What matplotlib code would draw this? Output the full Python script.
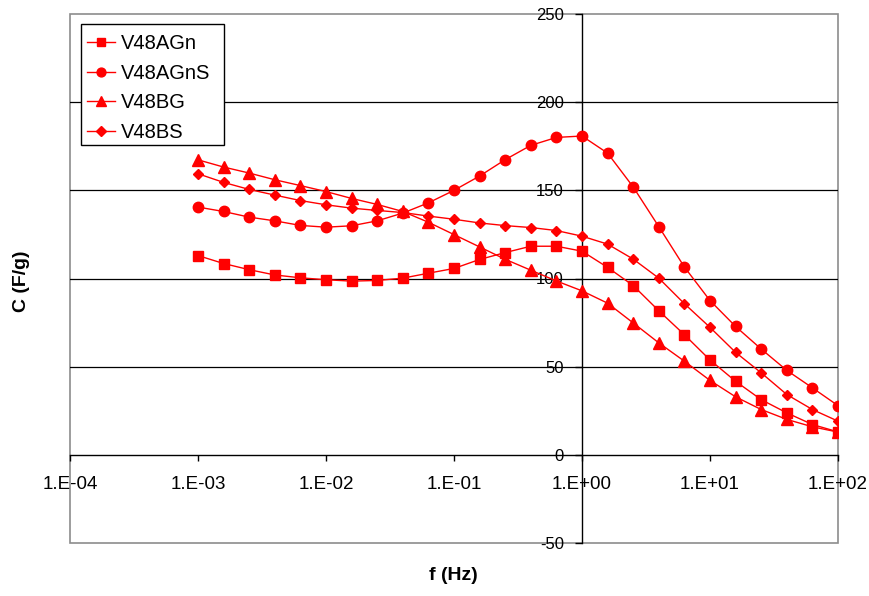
import numpy as np
import matplotlib
matplotlib.use("Agg")
import matplotlib.pyplot as plt
from matplotlib.ticker import FixedLocator, FixedFormatter
from matplotlib.patches import Rectangle

plt.rcParams['font.family'] = ['Liberation Sans', 'DejaVu Sans']

# Frequency sweep: 1 mHz to 100 Hz, five points per decade
log_f = [-3.0, -2.8, -2.6, -2.4, -2.2, -2.0, -1.8, -1.6, -1.4, -1.2,
         -1.0, -0.8, -0.6, -0.4, -0.2, 0.0, 0.2, 0.4, 0.6, 0.8,
         1.0, 1.2, 1.4, 1.6, 1.8, 2.0]
freq = [10 ** v for v in log_f]

c_v48agn = [113.0, 108.5, 105.0, 102.0, 100.4, 99.3, 98.5, 98.9, 100.2, 103.0,
            105.7, 110.8, 114.7, 118.3, 118.3, 115.5, 106.3, 96.0, 81.7, 68.1,
            53.8, 41.7, 31.3, 23.8, 17.2, 13.0]
c_v48agns = [140.5, 138.0, 134.8, 132.7, 130.1, 129.1, 129.9, 132.7, 137.1, 142.9,
             150.0, 158.1, 167.4, 175.5, 180.0, 180.8, 171.1, 151.9, 129.4, 106.5,
             87.5, 72.8, 60.0, 47.9, 38.0, 27.9]
c_v48bg = [167.3, 163.2, 159.8, 156.0, 152.7, 149.3, 145.4, 142.0, 138.0, 131.9,
           124.9, 117.9, 110.9, 104.7, 98.6, 93.0, 86.0, 74.8, 63.5, 53.1,
           42.2, 32.9, 25.7, 20.1, 15.9, 12.9]
c_v48bs = [159.4, 154.5, 150.5, 147.3, 144.2, 141.8, 139.9, 138.6, 137.4, 135.4,
           133.6, 131.5, 130.0, 128.9, 127.2, 124.0, 119.5, 111.0, 100.2, 85.7,
           72.3, 58.1, 46.5, 34.2, 25.7, 19.1]

series_names = ['V48AGn', 'V48AGnS', 'V48BG', 'V48BS']
series_values = [c_v48agn, c_v48agns, c_v48bg, c_v48bs]

x_ticks = [1e-4, 1e-3, 1e-2, 1e-1, 1e0, 1e1, 1e2]
x_tick_labels = ['1.E-04', '1.E-03', '1.E-02', '1.E-01', '1.E+00', '1.E+01', '1.E+02']
y_ticks = [-50, 0, 50, 100, 150, 200, 250]
y_tick_labels = ['-50', '0', '50', '100', '150', '200', '250']

W, H = 869, 596
fig = plt.figure(figsize=(W / 100, H / 100), dpi=100)
ax = fig.add_axes([70 / W, 1 - 543 / H, (838 - 70) / W, (543 - 14) / H])

ax.set_xscale('log')
ax.set_xlim(1e-4, 1e2)
ax.set_ylim(-50, 250)

styles = [('s', 7.0), ('o', 7.5), ('^', 8.0), ('D', 5.5)]
for name, vals, (mk, ms) in zip(series_names, series_values, styles):
    ax.plot(freq, vals, color='#FF0000', lw=1.0, marker=mk, ms=ms,
            mec='#FF0000', mfc='#FF0000', label=name, zorder=5)

# horizontal gridlines
for yv in [50, 100, 150, 200]:
    ax.axhline(yv, color='black', lw=0.9, zorder=1)

# plot-area border
ax.add_patch(Rectangle((0, 0), 1, 1, transform=ax.transAxes, fill=False,
                       edgecolor='#8c8c8c', lw=1.2, zorder=0.5, clip_on=False))

# axes cross at f = 1 Hz and C = 0
ax.spines['left'].set_position(('data', 1.0))
ax.spines['bottom'].set_position(('data', 0.0))
ax.spines['top'].set_visible(False)
ax.spines['right'].set_visible(False)
for s in ('left', 'bottom'):
    ax.spines[s].set_color('black')
    ax.spines[s].set_linewidth(1.0)
    ax.spines[s].set_zorder(2)

ax.xaxis.set_major_locator(FixedLocator(x_ticks))
ax.xaxis.set_major_formatter(FixedFormatter(x_tick_labels))
ax.xaxis.set_minor_locator(FixedLocator([]))
ax.yaxis.set_major_locator(FixedLocator(y_ticks))
ax.yaxis.set_major_formatter(FixedFormatter(y_tick_labels))

ax.tick_params(axis='x', direction='out', length=4, width=1, pad=11,
               labelsize=13.5, colors='black')
ax.tick_params(axis='y', direction='out', length=5, width=1, pad=8,
               labelsize=12, colors='black')

fig.text(22 / W, 1 - 281 / H, 'C (F/g)', rotation=90, ha='center', va='center',
         fontsize=14, fontweight='bold')
fig.text(453 / W, 1 - 576 / H, 'f (Hz)', ha='center', va='center',
         fontsize=14, fontweight='bold')

# legend box (drawn separately so the padding can be set exactly)
ax.add_patch(Rectangle((81 / W, 1 - 145 / H), 143 / W, 121 / H,
                       transform=fig.transFigure, facecolor='white',
                       edgecolor='black', lw=1.0, zorder=9, clip_on=False))
leg = ax.legend(loc='upper left', bbox_to_anchor=(81 / W, 1 - 28 / H),
                bbox_transform=fig.transFigure, borderaxespad=0,
                fontsize=14.5, frameon=False,
                handlelength=1.41, handletextpad=0.27, labelspacing=0.53,
                borderpad=0.3, markerscale=0.85)
leg.set_zorder(10)

fig.savefig('out.png', dpi=100)
